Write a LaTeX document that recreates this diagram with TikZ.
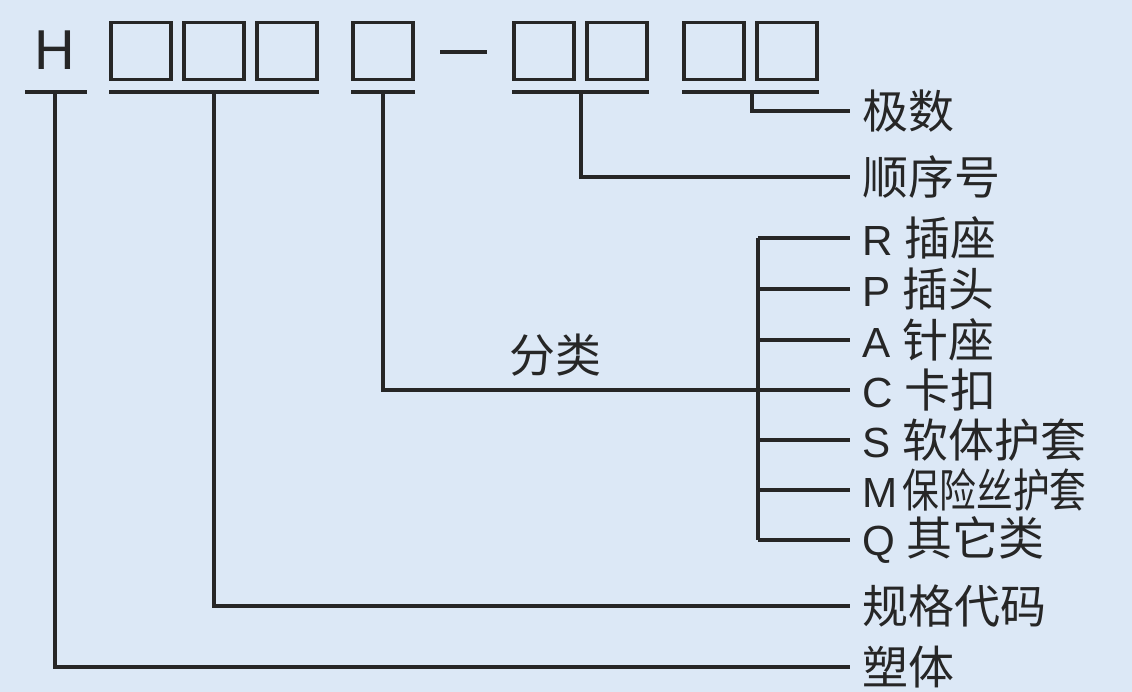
\documentclass[tikz,border=0pt]{standalone}
\usepackage{fontspec}
\setmainfont{Liberation Sans}
\newfontfamily\cjk[Scale=1.09]{Noto Sans CJK SC}
\newfontfamily\cjknarrow[Scale=1.09, FakeStretch=0.8]{Noto Sans CJK SC}
\usetikzlibrary{positioning}
\definecolor{bgblue}{HTML}{DCE8F6}
\definecolor{inkgray}{HTML}{262626}

\begin{document}
\begin{tikzpicture}[x=0.02cm, y=-0.02cm, font=\fontsize{24}{28}\selectfont,
    rule/.style={draw=inkgray, line width=2pt},
    codebox/.style={draw=inkgray, line width=1.9pt, minimum width=1.2cm, minimum height=1.14cm, inner sep=0pt},
    tag/.style={anchor=west, inner xsep=0.24cm, inner ysep=0pt, text=inkgray}]
    \fill[bgblue] (0,0) rectangle (1132,692);
    \useasboundingbox (0,0) rectangle (1132,692);
    \node[text=inkgray] (h) at (55,50) {\fontsize{32}{36}\selectfont H};
    \foreach \n/\x in {b1/141, b2/214, b3/287, b4/383, b5/544, b6/617, b7/714, b8/787} {
        \node[codebox] (\n) at (\x,51) {};
    }
    \draw[rule] (440,52) -- (487,52);
    \coordinate (ul) at (0,92);
    \draw[rule] (25,92) -- (87,92);
    \draw[rule] (b1.west |- ul) -- (b3.east |- ul);
    \draw[rule] (b4.west |- ul) -- (b4.east |- ul);
    \draw[rule] (b5.west |- ul) -- (b6.east |- ul);
    \draw[rule] (b7.west |- ul) -- (b8.east |- ul);
    \coordinate (th) at (55,92);
    \coordinate (t123) at (b2.center |- ul);
    \coordinate (t4) at (b4.center |- ul);
    \coordinate (t56) at (581,92);
    \coordinate (t78) at (752,92);
    \coordinate (brk) at (758,0);

    \node[tag] (poles) at (850,111) {\cjk 极数};
    \node[tag] (seq) at (850,177) {\cjk 顺序号};
    \foreach \n/\y/\t in {R/238/{R \cjk 插座}, P/289/{P \cjk 插头}, A/340/{A \cjk 针座}, C/390/{C \cjk 卡扣},
                         S/440/{S \cjk 软体护套}, M/490/{M\hspace{3pt}\cjknarrow 保险丝护套}, Q/540/{Q \cjk 其它类}} {
        \node[tag] (cat\n) at (850,\y) {\t};
        \draw[rule] (cat\n.west -| brk) -- (cat\n.west);
    }
    \node[tag] (spec) at (850,606) {\cjk 规格代码};
    \node[tag] (body) at (850,667) {\cjk 塑体};
    \node[text=inkgray] (cls) at (555,355) {\cjk 分类};

    \draw[rule] (catR.west -| brk) -- (catQ.west -| brk);
    \draw[rule] (t78) |- (poles.west);
    \draw[rule] (t56) |- (seq.west);
    \draw[rule] (t4) |- (catC.west);
    \draw[rule] (t123) |- (spec.west);
    \draw[rule] (th) |- (body.west);
\end{tikzpicture}
\end{document}
